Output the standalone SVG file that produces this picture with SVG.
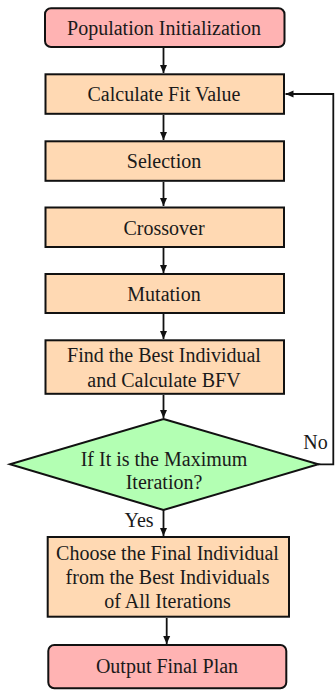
<svg xmlns="http://www.w3.org/2000/svg" width="335" height="690" viewBox="0 0 335 690">
<defs>
<style>
.t{font-family:"Liberation Serif","Times New Roman","DejaVu Serif",serif;font-size:20px;fill:#1a1a1a;text-anchor:middle}
.term{fill:#ffb3b3;stroke:#111;stroke-width:2}
.proc{fill:#ffd9b3;stroke:#111;stroke-width:2}
.dec{fill:#b3ffb3;stroke:#111;stroke-width:2}
.c{fill:none;stroke:#111;stroke-width:1.8}
</style>
<marker id="ah" markerWidth="8" markerHeight="8" refX="8" refY="4" orient="auto" markerUnits="userSpaceOnUse">
<path d="M0,0.5 L8,4 L0,7.5 Z" fill="#111"/>
</marker>
</defs>
<rect width="335" height="690" fill="#fff"/>
<g id="connectors">
<line class="c" x1="163.5" y1="48" x2="163.5" y2="73" marker-end="url(#ah)"/>
<line class="c" x1="163.5" y1="115" x2="163.5" y2="140" marker-end="url(#ah)"/>
<line class="c" x1="163.5" y1="182" x2="163.5" y2="206" marker-end="url(#ah)"/>
<line class="c" x1="163.5" y1="248" x2="163.5" y2="273" marker-end="url(#ah)"/>
<line class="c" x1="163.5" y1="314" x2="163.5" y2="339" marker-end="url(#ah)"/>
<line class="c" x1="163.5" y1="395" x2="163.5" y2="418" marker-end="url(#ah)"/>
<line class="c" x1="163.5" y1="510" x2="163.5" y2="536" marker-end="url(#ah)"/>
<line class="c" x1="166.7" y1="618" x2="166.7" y2="644" marker-end="url(#ah)"/>
<polyline class="c" points="318,464.3 333.3,464.3 333.3,94 285.5,94" marker-end="url(#ah)"/>
<text class="t" x="315.5" y="449.3">No</text>
<text class="t" x="139" y="526.7">Yes</text>
</g>
<g id="n-init">
<rect class="term" x="45" y="8.3" width="239.5" height="38.7" rx="6"/>
<text class="t" x="164" y="34.5">Population Initialization</text>
</g>
<g id="n-fit">
<rect class="proc" x="45.5" y="74.3" width="238.5" height="39.5"/>
<text class="t" x="164" y="101.3">Calculate Fit Value</text>
</g>
<g id="n-sel">
<rect class="proc" x="45.5" y="141.3" width="238.5" height="39.5"/>
<text class="t" x="164" y="168.3">Selection</text>
</g>
<g id="n-cross">
<rect class="proc" x="45.5" y="207.5" width="238.5" height="39.5"/>
<text class="t" x="164" y="234.5">Crossover</text>
</g>
<g id="n-mut">
<rect class="proc" x="45.5" y="274" width="238.5" height="39"/>
<text class="t" x="164" y="300.5">Mutation</text>
</g>
<g id="n-best">
<rect class="proc" x="45.5" y="340.3" width="238.5" height="53.5"/>
<text class="t" x="164" y="361.7">Find the Best Individual</text>
<text class="t" x="164" y="386.7">and Calculate BFV</text>
</g>
<g id="n-dec">
<polygon class="dec" points="163.5,419 318.3,464.3 163.5,510 10,464.3"/>
<text class="t" x="164" y="465.7">If It is the Maximum</text>
<text class="t" x="164" y="489.3">Iteration?</text>
</g>
<g id="n-choose">
<rect class="proc" x="47.7" y="537" width="241.3" height="79.7"/>
<text class="t" x="167.5" y="560">Choose the Final Individual</text>
<text class="t" x="167.5" y="584">from the Best Individuals</text>
<text class="t" x="167.5" y="608.3">of All Iterations</text>
</g>
<g id="n-out">
<rect class="term" x="48.3" y="645" width="238" height="43.3" rx="6"/>
<text class="t" x="167" y="673.3">Output Final Plan</text>
</g>
</svg>
